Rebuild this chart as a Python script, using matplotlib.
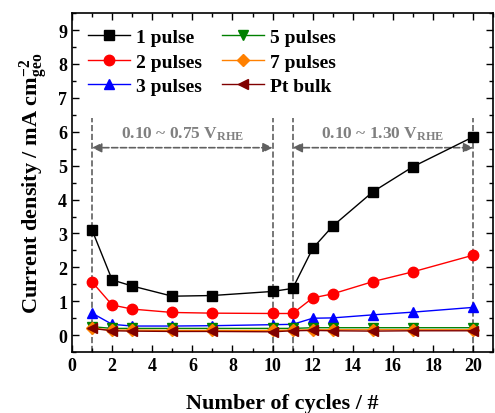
import matplotlib.pyplot as plt
from matplotlib.ticker import MultipleLocator

plt.rcParams["font.family"] = "Liberation Serif"
plt.rcParams["font.weight"] = "bold"
plt.rcParams["axes.labelweight"] = "bold"
plt.rcParams["mathtext.fontset"] = "custom"
plt.rcParams["mathtext.rm"] = "Liberation Serif:bold"
plt.rcParams["mathtext.it"] = "Liberation Serif:bold"
plt.rcParams["mathtext.bf"] = "Liberation Serif:bold"
plt.rcParams["mathtext.default"] = "bf"

cycles = [1, 2, 3, 5, 7, 10, 11, 12, 13, 15, 17, 20]
pulse1 = [3.10, 1.63, 1.45, 1.15, 1.17, 1.29, 1.38, 2.56, 3.22, 4.23, 4.97, 5.85]
pulse2 = [1.57, 0.89, 0.77, 0.67, 0.65, 0.64, 0.64, 1.10, 1.22, 1.58, 1.87, 2.36]
pulse3 = [0.65, 0.32, 0.27, 0.27, 0.28, 0.31, 0.32, 0.50, 0.51, 0.60, 0.68, 0.82]
pulse5 = [0.25, 0.20, 0.20, 0.20, 0.20, 0.20, 0.20, 0.22, 0.22, 0.22, 0.22, 0.22]
pulse7 = [0.20, 0.15, 0.15, 0.14, 0.14, 0.14, 0.15, 0.16, 0.16, 0.16, 0.16, 0.16]
pt_bulk = [0.20, 0.13, 0.12, 0.11, 0.11, 0.10, 0.13, 0.14, 0.13, 0.12, 0.13, 0.13]

series = [
    ("1 pulse", pulse1, "black", "s"),
    ("2 pulses", pulse2, "#ff0000", "o"),
    ("3 pulses", pulse3, "#0000ff", "^"),
    ("5 pulses", pulse5, "#008000", "v"),
    ("7 pulses", pulse7, "#ff8000", "D"),
    ("Pt bulk", pt_bulk, "#800000", "<"),
]

# boundaries of the two potential windows
windows = [(1, 10, "0.10 ~ 0.75 V$_{\\mathrm{RHE}}$"),
           (11, 20, "0.10 ~ 1.30 V$_{\\mathrm{RHE}}$")]

fig = plt.figure(figsize=(4.95, 4.14), dpi=100)
ax = fig.add_axes([0.1455, 0.147, 0.851, 0.819])

gray = "#606060"
for x0, x1, label in windows:
    for xv in (x0, x1):
        ax.plot([xv, xv], [-0.5, 6.4], color=gray, linestyle="--", linewidth=1.2, zorder=1)
    ax.annotate("", xy=(x1, 5.53), xytext=(x0, 5.53),
                arrowprops=dict(arrowstyle="<|-|>", color=gray, linestyle="--",
                                linewidth=1.2, mutation_scale=14,
                                shrinkA=0, shrinkB=0))
    ax.text((x0 + x1) / 2, 5.95, label, color="#808080", fontsize=12.5,
            fontweight="bold", ha="center", va="center")

for name, vals, col, mk in series:
    ms = 6 if mk == "D" else 7.5
    ax.plot(cycles, vals, color=col, marker=mk, markersize=ms,
            linewidth=1.0, label=name, zorder=3)

ax.set_xlim(0, 21)
ax.set_ylim(-0.5, 9.5)
ax.xaxis.set_major_locator(MultipleLocator(2))
ax.xaxis.set_minor_locator(MultipleLocator(1))
ax.yaxis.set_major_locator(MultipleLocator(1))
ax.yaxis.set_minor_locator(MultipleLocator(0.5))
ax.tick_params(which="both", direction="in", top=True, right=True,
               labelsize=13, width=1.0)
ax.tick_params(which="major", length=5)
ax.tick_params(which="minor", length=3)
for lbl in ax.get_xticklabels() + ax.get_yticklabels():
    lbl.set_fontweight("bold")
for sp in ax.spines.values():
    sp.set_linewidth(1.2)

ax.set_xlabel("Number of cycles / #", fontsize=16, labelpad=14)
ax.set_ylabel("Current density / mA cm$^{-2}_{\\mathrm{geo}}$", fontsize=16, labelpad=6)

ax.legend(loc="upper left", ncol=2, frameon=False,
          prop={"weight": "bold", "size": 14},
          handlelength=2.2, labelspacing=0.35, columnspacing=1.0,
          handletextpad=0.3, borderaxespad=0.4)

fig.savefig("out.png", dpi=100)
